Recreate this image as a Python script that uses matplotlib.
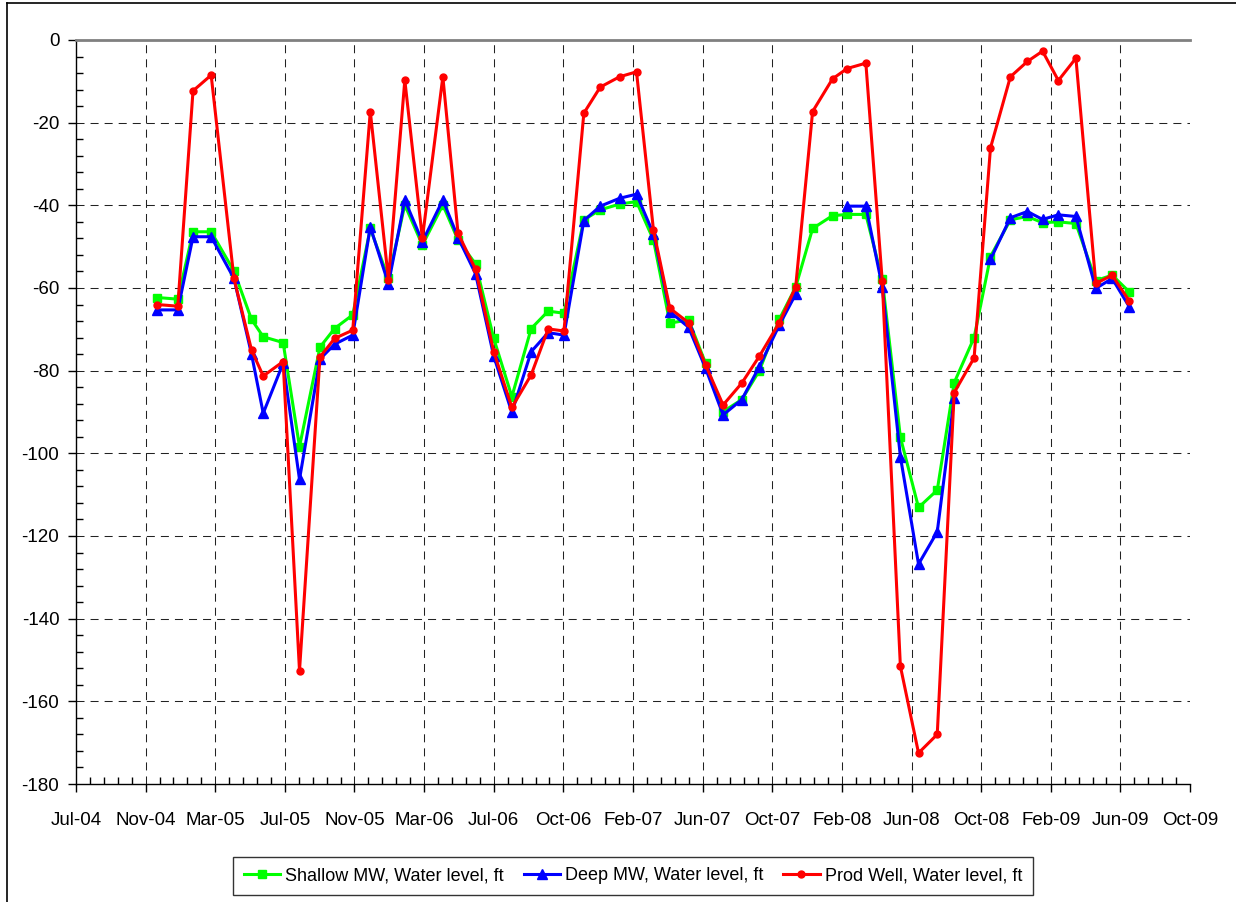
import matplotlib
matplotlib.use("Agg")
import matplotlib.pyplot as plt
import matplotlib.dates as mdates
from matplotlib.ticker import FixedLocator, MultipleLocator
from matplotlib.lines import Line2D
import numpy as np
import datetime as dt

dates = ["2004-12-06", "2005-01-10", "2005-02-05", "2005-03-08", "2005-04-16", "2005-05-16",
         "2005-06-05", "2005-07-09", "2005-08-06", "2005-09-10", "2005-10-05", "2005-11-05",
         "2005-12-05", "2006-01-05", "2006-02-02", "2006-03-04", "2006-04-08", "2006-05-04",
         "2006-06-03", "2006-07-04", "2006-08-04", "2006-09-06", "2006-10-05", "2006-11-01",
         "2006-12-05", "2007-01-02", "2007-02-04", "2007-03-05", "2007-04-03", "2007-05-01",
         "2007-06-02", "2007-07-01", "2007-07-31", "2007-09-01", "2007-10-01", "2007-11-04",
         "2007-12-02", "2007-12-31", "2008-02-03", "2008-02-28", "2008-03-31", "2008-04-28",
         "2008-05-29", "2008-06-29", "2008-07-31", "2008-08-29", "2008-10-02", "2008-10-30",
         "2008-12-03", "2009-01-01", "2009-01-27", "2009-02-23", "2009-03-25", "2009-04-28",
         "2009-05-26", "2009-06-24"]

shallow = [-62.3, -62.7, -46.4, -46.4, -55.9, -67.6, -71.8, -73.2, -98.4, -74.3, -69.8, -66.5,
           -45.6, -57.7, -39.9, -49.6, -39.9, -48.4, -54.2, -72.2, -86.3, -69.8, -65.6, -66.1,
           -43.5, -41.1, -39.7, -39.1, -48.4, -68.5, -67.7, -78.2, -89.9, -87.0, -80.0, -67.6,
           -59.8, -45.6, -42.5, -42.2, -42.2, -57.9, -96.1, -113.1, -108.9, -82.9, -72.0, -52.4,
           -43.5, -42.7, -44.2, -44.0, -44.4, -58.2, -56.9, -60.9]

deep = [-65.3, -65.3, -47.6, -47.6, -57.7, -76.0, -90.3, -78.2, -106.3, -77.2, -73.6, -71.4,
        -45.2, -59.0, -38.7, -48.8, -38.7, -47.8, -56.6, -76.5, -90.1, -75.4, -70.8, -71.4,
        -43.7, -40.2, -38.3, -37.3, -46.9, -65.7, -69.5, -79.4, -90.7, -87.0, -79.0, -69.0,
        -61.5, np.nan, np.nan, -40.2, -40.2, -59.7, -100.8, -126.8, -119.0, -86.7, np.nan, -53.1,
        -43.0, -41.5, -43.4, -42.3, -42.7, -60.1, -57.7, -64.5]

prod = [-64.0, -64.4, -12.3, -8.5, -57.7, -75.0, -81.3, -77.8, -152.6, -76.7, -72.2, -70.2,
        -17.3, -58.0, -9.7, -48.0, -8.9, -46.8, -55.5, -75.4, -88.9, -81.0, -69.9, -70.4,
        -17.7, -11.4, -8.9, -7.7, -46.0, -64.9, -68.4, -78.6, -88.3, -83.0, -76.5, -68.4,
        -59.8, -17.3, -9.4, -6.9, -5.6, -58.3, -151.5, -172.5, -168.0, -85.3, -76.9, -26.1,
        -8.9, -5.2, -2.7, -9.8, -4.4, -58.9, -56.9, -63.1]

tick_labels = ["Jul-04", "Nov-04", "Mar-05", "Jul-05", "Nov-05", "Mar-06", "Jul-06", "Oct-06",
               "Feb-07", "Jun-07", "Oct-07", "Feb-08", "Jun-08", "Oct-08", "Feb-09", "Jun-09", "Oct-09"]
axis_start = "2004-07-20"
major_step_days = 119

series_names = ["Shallow MW, Water level, ft", "Deep MW, Water level, ft", "Prod Well, Water level, ft"]

plt.rcParams['font.family'] = ["Liberation Sans", "DejaVu Sans"]
plt.rcParams['axes.unicode_minus'] = False

x = mdates.date2num([dt.datetime.strptime(d, "%Y-%m-%d") for d in dates])
x0 = mdates.date2num(dt.datetime.strptime(axis_start, "%Y-%m-%d"))
major = x0 + major_step_days * np.arange(len(tick_labels))

fig = plt.figure(figsize=(12.36, 9.02), dpi=100)
ax = fig.add_axes([76/1236, 1-784/902, (1190-76)/1236, (784-40)/902])

ax.plot(x, shallow, color="#00FF00", lw=2.2, marker="s", ms=5.5, mec="#00FF00", mfc="#00FF00",
        label=series_names[0], zorder=3)
ax.plot(x, deep, color="#0000FF", lw=2.2, marker="^", ms=6.5, mec="#0000FF", mfc="#0000FF",
        label=series_names[1], zorder=4)
ax.plot(x, prod, color="#FF0000", lw=2.2, marker="o", ms=5, mec="#FF0000", mfc="#FF0000",
        label=series_names[2], zorder=5)

ax.set_xlim(major[0], major[-1])
ax.set_ylim(-180, 0)

ax.xaxis.set_major_locator(FixedLocator(major))
ax.set_xticklabels(tick_labels)
minor = np.concatenate([np.linspace(a, b, 6)[1:-1] for a, b in zip(major[:-1], major[1:])])
ax.xaxis.set_minor_locator(FixedLocator(minor))
ax.yaxis.set_major_locator(MultipleLocator(20))
ax.yaxis.set_minor_locator(MultipleLocator(4))

ax.tick_params(axis="both", which="major", direction="out", length=6, width=1, colors="black",
               labelsize=13.5)
ax.tick_params(axis="both", which="minor", direction="in", length=5, width=1, colors="black")
ax.tick_params(axis="x", which="major", pad=14)
ax.tick_params(axis="y", which="major", pad=6)

dash = (0, (7.7, 5.8))
for v in major[1:-1]:
    ax.axvline(v, color="#222222", lw=0.75, ls=dash, zorder=1)
for v in np.arange(-160, 0, 20):
    ax.axhline(v, color="#222222", lw=0.75, ls=dash, zorder=1)

for s in ["left", "bottom"]:
    ax.spines[s].set_color("black")
    ax.spines[s].set_linewidth(1)
ax.spines["top"].set_color("#808080")
ax.spines["top"].set_linewidth(2)
ax.spines["right"].set_visible(False)

leg = fig.legend(loc="center", bbox_to_anchor=(633/1236, 1-876/902), ncol=3, frameon=True,
                 fancybox=False, edgecolor="black", fontsize=13, handlelength=2.0,
                 handletextpad=0.3, columnspacing=1.1, borderpad=0.6)
leg.get_frame().set_linewidth(1)

# outer chart border (left and top edges visible in the reference)
fig.add_artist(Line2D([7/1236, 7/1236], [0, 1-3/902], transform=fig.transFigure, color="black", lw=1.2))
fig.add_artist(Line2D([7/1236, 1], [1-3/902, 1-3/902], transform=fig.transFigure, color="black", lw=1.2))

fig.savefig("out.png", dpi=100)
